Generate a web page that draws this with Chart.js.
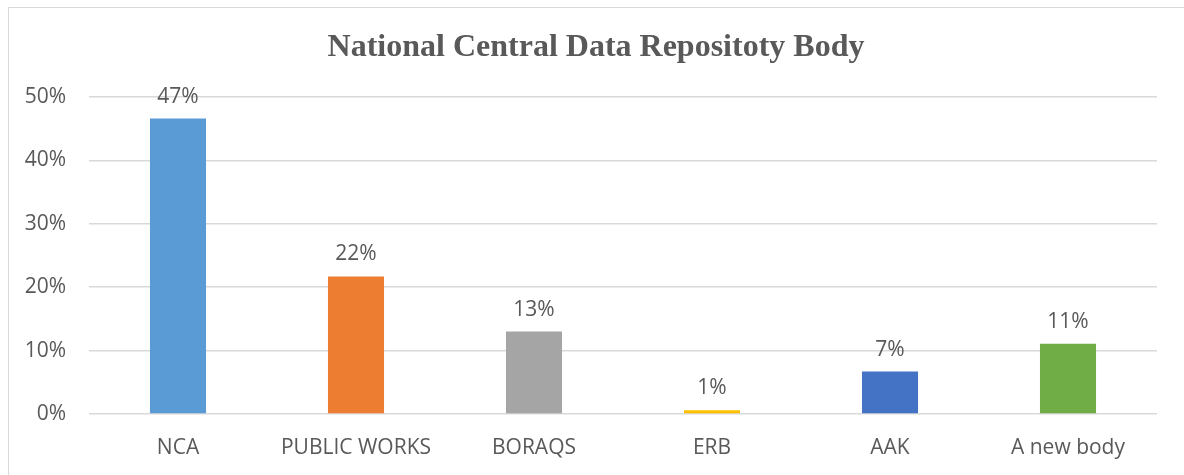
<!DOCTYPE html>
<html>
<head>
<meta charset="utf-8">
<script src="https://cdn.jsdelivr.net/npm/chart.js@4"></script>
<style>
  html, body { margin: 0; padding: 0; background: #fff; }
  #wrap { position: relative; width: 1184px; height: 475px; }
  #frame { position: absolute; left: 8px; top: 7px; right: -10px; bottom: -10px;
           border-left: 1px solid #d9d9d9; border-top: 1px solid #d9d9d9; pointer-events: none; }
</style>
</head>
<body>
<div id="wrap">
  <canvas id="repochart" width="1184" height="475"></canvas>
  <div id="frame"></div>
</div>
<script>
  // Setup Block
  const bodies = ['NCA', 'PUBLIC WORKS', 'BORAQS', 'ERB', 'AAK', 'A new body'];
  const shares = [46.6, 21.7, 13.0, 0.6, 6.7, 11.1];
  const barColors = ['#5B9BD5', '#ED7D31', '#A5A5A5', '#FFC000', '#4472C4', '#70AD47'];
  const yTicks = [0, 10, 20, 30, 40, 50];

  const textColor = '#595959';
  const tickFont = { family: "'Open Sans', sans-serif", size: 21 };

  // draws the percent above every bar
  const valueLabels = {
    id: 'valueLabels',
    afterDatasetsDraw(chart) {
      const ctx = chart.ctx;
      const meta = chart.getDatasetMeta(0);
      ctx.save();
      ctx.font = "21px 'Open Sans', sans-serif";
      ctx.fillStyle = textColor;
      ctx.textAlign = 'center';
      ctx.textBaseline = 'middle';
      meta.data.forEach((bar, i) => {
        ctx.fillText(Math.round(shares[i]) + '%', bar.x, bar.y - 22);
      });
      ctx.restore();
    }
  };

  const data_repo = {
    labels: bodies,
    datasets: [{
      label: 'Share',
      data: shares,
      backgroundColor: barColors,
      borderWidth: 0,
      barPercentage: 0.63,
      categoryPercentage: 0.5
    }]
  };

  // Config Block
  const config_repo = {
    type: 'bar',
    data: data_repo,
    plugins: [valueLabels],
    options: {
      responsive: false,
      animation: false,
      layout: { padding: { left: 8, right: 0, top: 0, bottom: 0 } },
      plugins: {
        legend: { display: false },
        tooltip: { enabled: false },
        title: {
          display: true,
          text: 'National Central Data Repositoty Body',
          color: textColor,
          font: { family: "'Liberation Serif', 'Times New Roman', serif", size: 32, weight: 'bold', lineHeight: 1.2 },
          padding: { top: 29, bottom: 29.6 }
        }
      },
      scales: {
        x: {
          grid: { display: false, drawTicks: false },
          border: { display: false },
          ticks: { color: textColor, font: tickFont, padding: 21, maxRotation: 0 },
          afterFit(scale) { scale.height = 61; }
        },
        y: {
          min: 0,
          max: 50,
          afterBuildTicks(scale) { scale.ticks = yTicks.map(v => ({ value: v })); },
          grid: { color: '#d9d9d9', lineWidth: 1.5, drawTicks: false },
          border: { display: false },
          ticks: {
            color: textColor,
            font: tickFont,
            padding: 23,
            callback: v => v + '%'
          },
          afterFit(scale) { scale.width = 81; }
        },
        // empty strip on the right so the plot ends where the reference does
        yRight: {
          position: 'right',
          grid: { display: false, drawTicks: false },
          border: { display: false },
          ticks: { display: false },
          afterFit(scale) { scale.width = 27; }
        }
      }
    }
  };

  // Render Block
  const repochart = new Chart(
    document.getElementById('repochart'),
    config_repo
  );
</script>
</body>
</html>
